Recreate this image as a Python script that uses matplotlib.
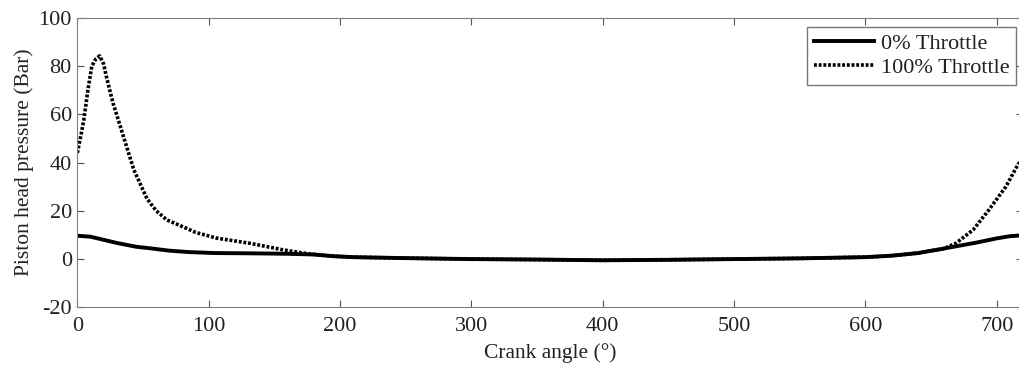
import matplotlib.pyplot as plt

plt.rcParams['font.family'] = ['Liberation Serif', 'DejaVu Serif']
plt.rcParams['axes.unicode_minus'] = False

# 0% throttle
ang_0 = [0, 10, 20, 30, 45, 55, 70, 85, 105, 130, 160, 180, 195, 210, 250,
         300, 350, 400, 450, 500, 550, 600, 620, 640, 655, 670, 685, 700,
         710, 720]
p_0 = [9.6, 9.2, 7.9, 6.6, 5.0, 4.4, 3.4, 2.8, 2.4, 2.3, 2.1, 1.8, 1.1, 0.7,
       0.3, -0.1, -0.3, -0.6, -0.4, -0.1, 0.2, 0.7, 1.3, 2.4, 3.8, 5.3, 6.8,
       8.5, 9.4, 9.8]

# 100% throttle
ang_100 = [0, 3, 5, 8, 11, 14, 17, 20, 22, 27, 35, 43, 53, 60, 68, 80, 90,
           106, 131, 157, 177, 195, 210, 250, 300, 350, 400, 450, 500, 550,
           600, 620, 640, 660, 669, 682, 694, 707, 715, 720]
p_100 = [44, 52, 58, 70, 80, 83, 84.3, 81, 76, 65, 51, 37, 25, 20, 16.2,
         13.4, 11, 8.6, 6.5, 3.7, 2.0, 1.1, 0.7, 0.3, -0.1, -0.3, -0.6, -0.4,
         -0.1, 0.2, 0.7, 1.3, 2.4, 4.3, 6.5, 12, 20.3, 30, 38, 42]

fig = plt.figure(figsize=(10.19, 3.68), dpi=100)
ax = fig.add_axes([0.0759, 0.1658, 0.928, 0.785])

ax.plot(ang_0, p_0, color='black', lw=2.8, label='0% Throttle')
ax.plot(ang_100, p_100, color='black', lw=2.6, dashes=(0.8, 0.5),
        label='100% Throttle')

ax.set_xlim(0, 720)
ax.set_ylim(-20, 100)
ax.set_xticks(range(0, 701, 100))
ax.set_yticks(range(-20, 101, 20))
ax.tick_params(direction='in', top=True, right=True, length=5,
               labelsize=16, color='#555555', labelcolor='#222222')
ax.tick_params(axis='x', pad=7)
ax.tick_params(axis='y', pad=4)
for s in ax.spines.values():
    s.set_color('#808080')

ax.set_xlabel('Crank angle (°)', fontsize=15.5, labelpad=5, color='#222222')
ax.set_ylabel('Piston head pressure (Bar)', fontsize=15.5, labelpad=3,
              color='#222222')

leg = ax.legend(loc='upper right', bbox_to_anchor=(0.9925, 0.97), fontsize=16,
                frameon=True, fancybox=False, handlelength=2.7,
                handletextpad=0.3, borderpad=0.3, labelspacing=0.15,
                borderaxespad=0)
leg.get_frame().set_edgecolor('#555555')
leg.get_frame().set_linewidth(1.0)
for t in leg.get_texts():
    t.set_color('#222222')

plt.savefig('out.png', dpi=100)
